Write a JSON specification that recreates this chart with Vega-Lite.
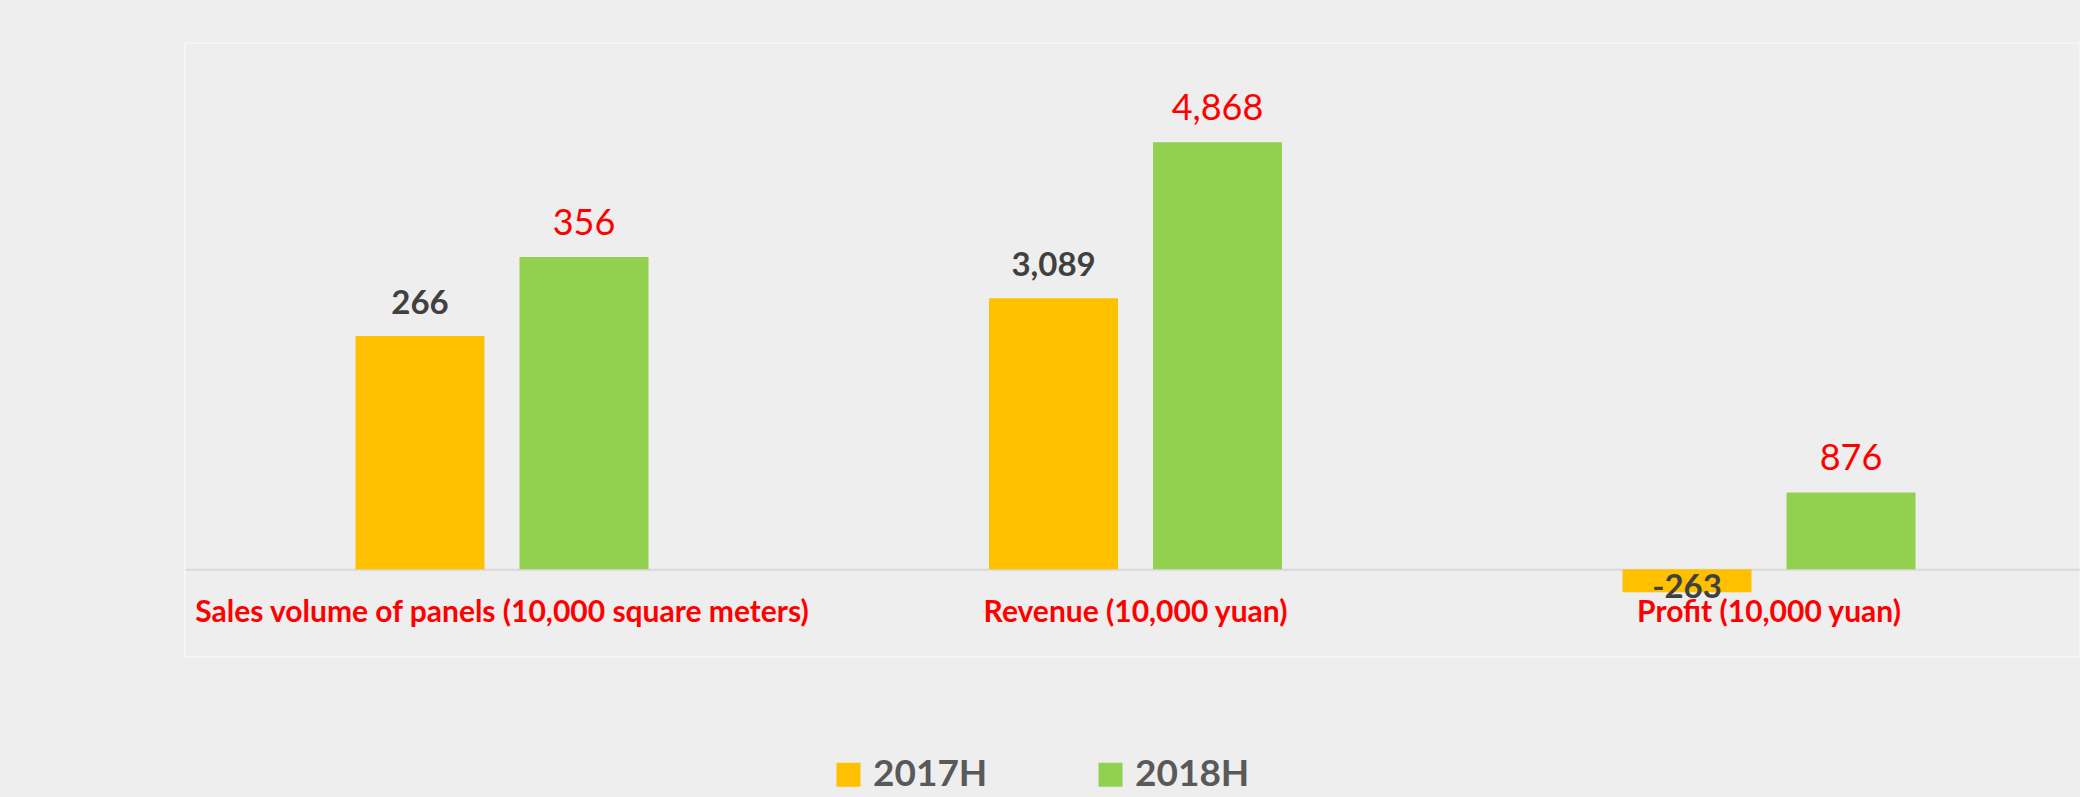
{
  "$schema": "https://vega.github.io/schema/vega-lite/v6.json",
  "autosize": {"type": "none"},
  "padding": {"left": 185, "top": 43, "right": 0, "bottom": 140},
  "width": 1895,
  "height": 614,
  "background": "#eeeeee",
  "config": {
    "view": {"stroke": "#f5f5f5", "strokeWidth": 2},
    "locale": {"number": {"decimal": ".", "thousands": ",", "grouping": [3], "currency": ["", ""], "minus": "-"}},
    "font": "Lato"
  },
  "datasets": {
    "sales": [
      {"category": "Sales volume of panels (10,000 square meters)", "series": "2017H", "value": 266},
      {"category": "Sales volume of panels (10,000 square meters)", "series": "2018H", "value": 356}
    ],
    "money": [
      {"category": "Revenue (10,000 yuan)", "series": "2017H", "value": 3089},
      {"category": "Revenue (10,000 yuan)", "series": "2018H", "value": 4868},
      {"category": "Profit (10,000 yuan)", "series": "2017H", "value": -263},
      {"category": "Profit (10,000 yuan)", "series": "2018H", "value": 876}
    ]
  },
  "encoding": {
    "x": {
      "field": "category", "type": "nominal",
      "scale": {
        "domain": ["Sales volume of panels (10,000 square meters)", "Revenue (10,000 yuan)", "Profit (10,000 yuan)"],
        "paddingInner": 0.5375, "paddingOuter": 0.2644, "align": 0.509
      },
      "axis": {
        "title": null, "orient": "bottom", "offset": -87.7,
        "ticks": false, "tickSize": 0, "labelAngle": 0, "labelLimit": 0,
        "labelPadding": 28, "labelFont": "Lato", "labelFontWeight": "bold",
        "labelFontSize": 30, "labelColor": "#ff0000",
        "domainColor": "#d9d9d9", "domainWidth": 2, "grid": false
      }
    },
    "xOffset": {
      "field": "series", "type": "nominal",
      "scale": {"domain": ["2017H", "2018H"], "paddingInner": 0.2134, "paddingOuter": 0}
    }
  },
  "layer": [
    {
      "data": {"name": "sales"},
      "mark": {"type": "bar"},
      "encoding": {
        "y": {"field": "value", "type": "quantitative", "scale": {"domain": [-100, 600], "nice": false}, "axis": null},
        "color": {
          "field": "series", "type": "nominal",
          "scale": {"domain": ["2017H", "2018H"], "range": ["#ffc000", "#92d050"]},
          "legend": {
            "title": null, "orient": "none", "direction": "horizontal",
            "legendX": 645, "legendY": 713,
            "symbolType": "square", "symbolSize": 576, "symbolStrokeWidth": 0,
            "labelFont": "Lato", "labelFontWeight": "bold", "labelFontSize": 37,
            "labelColor": "#595959", "labelOffset": 6, "columnPadding": 104
          }
        }
      }
    },
    {
      "data": {"name": "money"},
      "mark": {"type": "bar"},
      "encoding": {
        "y": {"field": "value", "type": "quantitative", "scale": {"domain": [-1000, 6000], "nice": false}, "axis": null},
        "color": {"field": "series", "type": "nominal"}
      }
    },
    {
      "data": {"name": "sales"},
      "transform": [{"filter": "datum.series === '2017H'"}],
      "mark": {"type": "text", "baseline": "alphabetic", "dy": -22, "font": "Lato", "fontWeight": "bold", "fontSize": 33, "color": "#404040"},
      "encoding": {
        "y": {"field": "value", "type": "quantitative", "scale": {"domain": [-100, 600], "nice": false}, "axis": null},
        "text": {"field": "value", "type": "quantitative", "format": ","}
      }
    },
    {
      "data": {"name": "sales"},
      "transform": [{"filter": "datum.series === '2018H'"}],
      "mark": {"type": "text", "baseline": "alphabetic", "dy": -22, "font": "Lato", "fontSize": 36, "color": "#ff0000"},
      "encoding": {
        "y": {"field": "value", "type": "quantitative", "scale": {"domain": [-100, 600], "nice": false}, "axis": null},
        "text": {"field": "value", "type": "quantitative", "format": ","}
      }
    },
    {
      "data": {"name": "money"},
      "transform": [{"filter": "datum.series === '2017H' && datum.value >= 0"}],
      "mark": {"type": "text", "baseline": "alphabetic", "dy": -22, "font": "Lato", "fontWeight": "bold", "fontSize": 33, "color": "#404040"},
      "encoding": {
        "y": {"field": "value", "type": "quantitative", "scale": {"domain": [-1000, 6000], "nice": false}, "axis": null},
        "text": {"field": "value", "type": "quantitative", "format": ","}
      }
    },
    {
      "data": {"name": "money"},
      "transform": [{"filter": "datum.series === '2017H' && datum.value < 0"}],
      "mark": {"type": "text", "baseline": "alphabetic", "dy": 6, "font": "Lato", "fontWeight": "bold", "fontSize": 33, "color": "#404040"},
      "encoding": {
        "y": {"field": "value", "type": "quantitative", "scale": {"domain": [-1000, 6000], "nice": false}, "axis": null},
        "text": {"field": "value", "type": "quantitative", "format": ","}
      }
    },
    {
      "data": {"name": "money"},
      "transform": [{"filter": "datum.series === '2018H'"}],
      "mark": {"type": "text", "baseline": "alphabetic", "dy": -22, "font": "Lato", "fontSize": 36, "color": "#ff0000"},
      "encoding": {
        "y": {"field": "value", "type": "quantitative", "scale": {"domain": [-1000, 6000], "nice": false}, "axis": null},
        "text": {"field": "value", "type": "quantitative", "format": ","}
      }
    }
  ],
  "resolve": {"scale": {"y": "independent"}}
}
